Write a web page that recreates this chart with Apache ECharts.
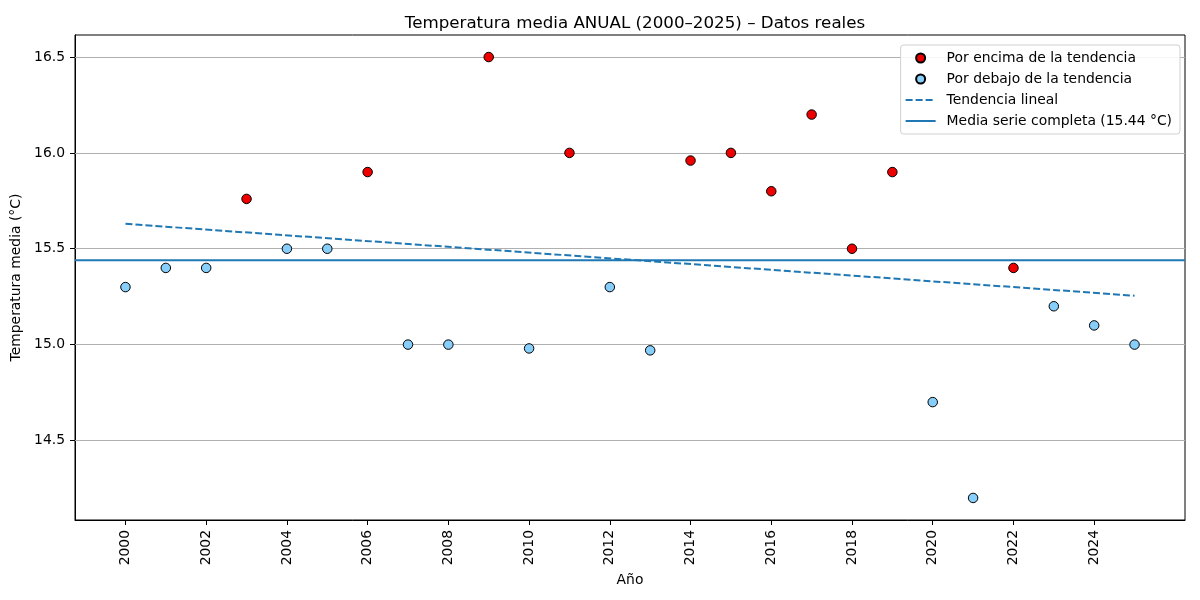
<!DOCTYPE html>
<html>
<head>
    <meta charset="utf-8">
    <title>Temperatura media anual</title>
    <script src="https://cdn.jsdelivr.net/npm/echarts@6/dist/echarts.min.js"></script>
    <style type="text/css">
        html, body { height: 100%; margin: 0; padding: 0; background: #fff; }
        #main { width: 1200px; height: 600px; }
    </style>
</head>
<body>
<div id="main"></div>
<script type="text/javascript">
    // datos
    var years = [2000, 2001, 2002, 2003, 2004, 2005, 2006, 2007, 2008, 2009, 2010, 2011, 2012,
        2013, 2014, 2015, 2016, 2017, 2018, 2019, 2020, 2021, 2022, 2023, 2024, 2025];
    var temps = [15.30, 15.40, 15.40, 15.76, 15.50, 15.50, 15.90, 15.00, 15.00, 16.50, 14.98, 16.00, 15.30,
        14.97, 15.96, 16.00, 15.80, 16.20, 15.50, 15.90, 14.70, 14.20, 15.40, 15.20, 15.10, 15.00];
    var trendYears = [2000, 2025];
    var trendValues = [15.63, 15.255];
    var meanValue = 15.44;
    var xTicks = [2000, 2002, 2004, 2006, 2008, 2010, 2012, 2014, 2016, 2018, 2020, 2022, 2024];
    var yTicks = [14.5, 15.0, 15.5, 16.0, 16.5];

    var xMin = 1998.75, xMax = 2026.25;
    var yMin = 14.085, yMax = 16.615;

    function trendAt(x) {
        var t = (x - trendYears[0]) / (trendYears[1] - trendYears[0]);
        return trendValues[0] + t * (trendValues[1] - trendValues[0]);
    }

    var above = [], below = [];
    for (var i = 0; i < years.length; i++) {
        if (temps[i] > trendAt(years[i])) above.push([years[i], temps[i]]);
        else below.push([years[i], temps[i]]);
    }

    var font = 'DejaVu Sans';
    var fs = 13.9;
    var myChart = echarts.init(document.getElementById('main'));

    var option = {
        backgroundColor: '#fff',
        animation: false,
        textStyle: { fontFamily: font },
        title: {
            text: 'Temperatura media ANUAL (2000–2025) – Datos reales',
            left: 630,
            textAlign: 'center',
            top: 10,
            textStyle: { fontFamily: font, fontSize: 16.7, fontWeight: 'normal', color: '#000' }
        },
        legend: {
            orient: 'vertical',
            right: 20,
            top: 45,
            z: 10,
            itemGap: 7,
            itemWidth: 30,
            itemHeight: 9,
            padding: [6, 8, 6, 4],
            borderColor: '#d0d0d0',
            borderWidth: 1,
            borderRadius: 3,
            backgroundColor: 'rgba(255,255,255,0.9)',
            textStyle: { fontFamily: font, fontSize: fs, color: '#000', padding: [0, 0, 0, 6] },
            data: [
                { name: 'Por encima de la tendencia', icon: 'circle' },
                { name: 'Por debajo de la tendencia', icon: 'circle' },
                { name: 'Tendencia lineal', itemStyle: { opacity: 0 } },
                { name: 'Media serie completa (15.44 °C)', itemStyle: { opacity: 0 } }
            ]
        },
        grid: {
            left: 75,
            right: 15,
            top: 35,
            bottom: 80,
            show: true,
            borderColor: '#000',
            borderWidth: 1,
            backgroundColor: '#fff'
        },
        xAxis: {
            type: 'value',
            min: xMin,
            max: xMax,
            name: 'Año',
            nameLocation: 'middle',
            nameGap: 50,
            nameTextStyle: { fontFamily: font, fontSize: fs, color: '#000' },
            axisLine: { lineStyle: { color: '#000' } },
            axisTick: { show: true, length: 5, customValues: xTicks, lineStyle: { color: '#000' } },
            axisLabel: {
                customValues: xTicks,
                rotate: 90,
                fontFamily: font,
                fontSize: fs,
                color: '#000',
                margin: 10,
                formatter: function (v) { return String(v); }
            },
            splitLine: { show: false }
        },
        yAxis: {
            type: 'value',
            min: yMin,
            max: yMax,
            name: 'Temperatura media (°C)',
            nameLocation: 'middle',
            nameGap: 41,
            nameTextStyle: { fontFamily: font, fontSize: fs, color: '#000' },
            axisLine: { show: true, lineStyle: { color: '#000' } },
            axisTick: { show: true, length: 5, customValues: yTicks, lineStyle: { color: '#000' } },
            axisLabel: {
                customValues: yTicks,
                fontFamily: font,
                fontSize: fs,
                color: '#000',
                margin: 10,
                formatter: function (v) { return v.toFixed(1); }
            },
            splitLine: { show: false }
        },
        series: [
            {
                name: 'grid',
                type: 'line',
                data: [],
                silent: true,
                z: 1,
                markLine: {
                    silent: true,
                    symbol: 'none',
                    z: 1,
                    label: { show: false },
                    lineStyle: { color: '#b0b0b0', type: 'solid', width: 1.1 },
                    data: yTicks.map(function (v) { return { yAxis: v }; })
                }
            },
            {
                name: 'Media serie completa (15.44 °C)',
                type: 'line',
                data: [[xMin, meanValue], [xMax, meanValue]],
                symbol: 'none',
                z: 2,
                lineStyle: { color: '#1f77b4', width: 2 },
                itemStyle: { color: '#1f77b4' }
            },
            {
                name: 'Tendencia lineal',
                type: 'line',
                data: [[trendYears[0], trendValues[0]], [trendYears[1], trendValues[1]]],
                symbol: 'none',
                z: 3,
                lineStyle: { color: '#1f77b4', width: 2, type: [7, 3] },
                itemStyle: { color: '#1f77b4' }
            },
            {
                name: 'Por encima de la tendencia',
                type: 'scatter',
                data: above,
                symbolSize: 9.5,
                z: 4,
                itemStyle: { color: '#ee0000', borderColor: '#000', borderWidth: 1, opacity: 1 }
            },
            {
                name: 'Por debajo de la tendencia',
                type: 'scatter',
                data: below,
                symbolSize: 9.5,
                z: 4,
                itemStyle: { color: '#87cefa', borderColor: '#000', borderWidth: 1, opacity: 1 }
            }
        ]
    };

    myChart.setOption(option);
</script>
</body>
</html>
